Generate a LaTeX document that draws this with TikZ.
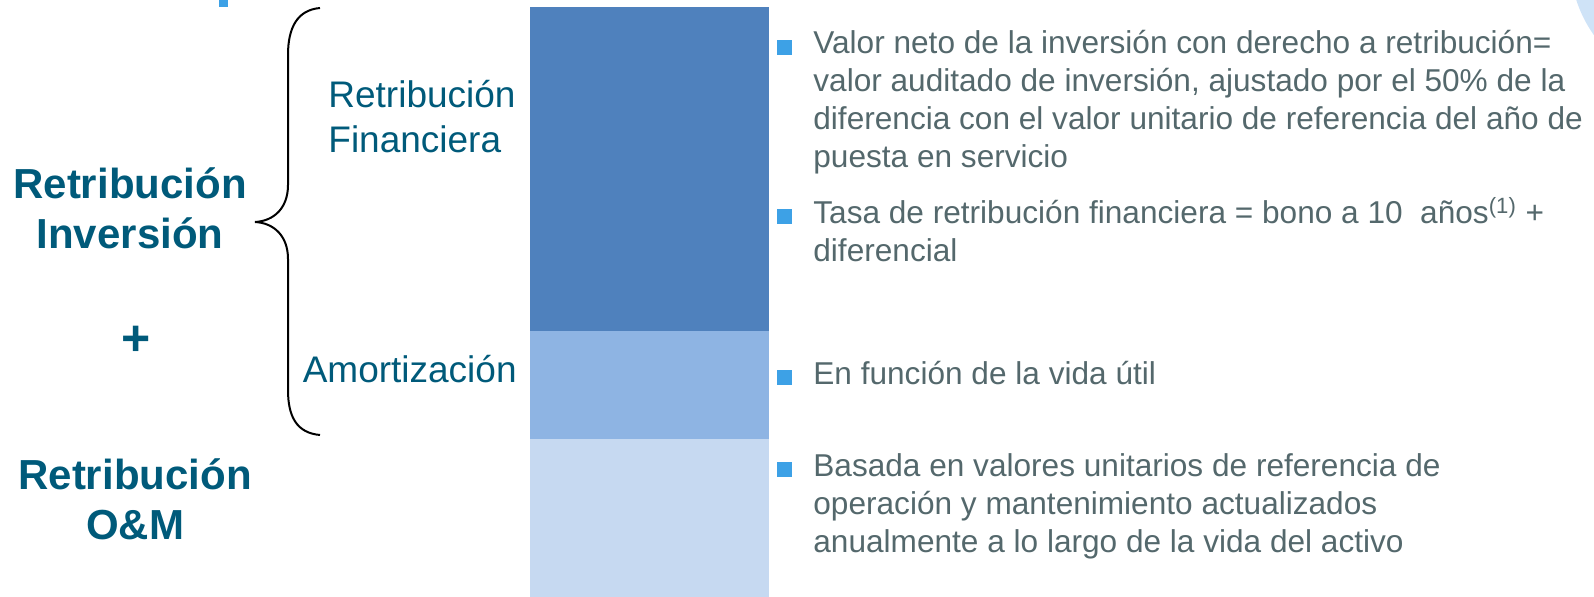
\documentclass[tikz,border=0pt]{standalone}
\usepackage{fontspec}
\setmainfont{Liberation Sans}
\usepackage{tikz}
\definecolor{tealtxt}{RGB}{0,90,122}
\definecolor{graytxt}{RGB}{84,104,108}
\definecolor{bulblue}{RGB}{61,161,230}
\definecolor{bardark}{RGB}{79,129,189}
\definecolor{barmid}{RGB}{142,180,227}
\definecolor{barlight}{RGB}{198,217,241}
\definecolor{arcblue}{RGB}{207,227,247}
\tikzset{big/.style={inner sep=0pt,align=center,text=tealtxt,font=\fontsize{21}{25}\selectfont\bfseries},
         mid/.style={inner sep=0pt,align=left,text=tealtxt,font=\fontsize{18.5}{22.5}\selectfont},
         ptxt/.style={inner sep=0pt,align=left,anchor=base west,text=graytxt,font=\fontsize{15.8}{19}\selectfont},
         sq/.style={fill=bulblue,inner sep=0pt,minimum size=7.5pt}}
\begin{document}
\begin{tikzpicture}[x=0.5pt,y=-0.5pt]
\useasboundingbox (0,0) rectangle (1594,597);
\begin{scope}
\clip (0,0) rectangle (1594,597);
\fill[arcblue] (1700,-40) circle (130);
\end{scope}
\fill[bulblue] (219,0) rectangle (228,7);
\fill[bardark] (530,7) rectangle (769,331);
\fill[barmid] (530,331) rectangle (769,439);
\fill[barlight] (530,439) rectangle (769,597);
\draw[line width=1pt] (320,8) .. controls (297,10) and (288,28) .. (288,55) -- (288,185)
  .. controls (288,208) and (274,221) .. (255,222) .. controls (274,223) and (288,236) .. (288,259)
  -- (288,390) .. controls (288,417) and (297,433) .. (320,435);
\node[big,anchor=base] (ri) at (130,249) {Retribución\\Inversión};
\node[big,font=\fontsize{25}{30}\selectfont\bfseries] (plus) at (136,341) {+};
\node[big,anchor=base] (rom) at (135,540) {Retribución\\O\&M};
\node[mid,anchor=base west] (rf) at (328,153) {Retribución\\Financiera};
\node[mid,anchor=base east] (am) at (517,383) {Amortización};
\node[sq] (q1) at (784.5,47.5) {};
\node[ptxt] (p1) at (813,168) {Valor neto de la inversión con derecho a retribución=\\valor auditado de inversión, ajustado por el 50\% de la\\diferencia con el valor unitario de referencia del año de\\puesta en servicio};
\node[sq] (q2) at (784.5,216.5) {};
\node[ptxt] (p2) at (813,262) {Tasa de retribución financiera = bono a 10~ años\textsuperscript{(1)} +\\diferencial};
\node[sq] (q3) at (784.5,377.5) {};
\node[ptxt] (p3) at (813,385) {En función de la vida útil};
\node[sq] (q4) at (784.5,469.5) {};
\node[ptxt] (p4) at (813,553) {Basada en valores unitarios de referencia de\\operación y mantenimiento actualizados\\anualmente a lo largo de la vida del activo};
\end{tikzpicture}
\end{document}
